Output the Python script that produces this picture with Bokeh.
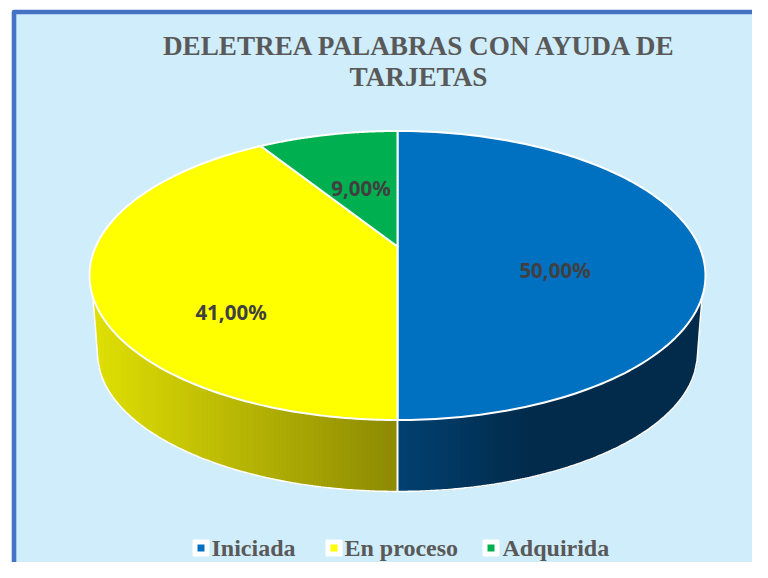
import numpy as np
from bokeh.plotting import figure
from bokeh.embed import file_html
from bokeh.resources import INLINE
from bokeh.core.properties import value

title_lines = ["DELETREA PALABRAS CON AYUDA DE", "TARJETAS"]
categories = ["Iniciada", "En proceso", "Adquirida"]
shares = [50.0, 41.0, 9.0]
labels = ["50,00%", "41,00%", "9,00%"]
colors = ["#0070C0", "#FFFF00", "#00B050"]

BG = "#D0EDFB"
CX, CY, RX, RY = 397.0, 275.0, 308.0, 144.5   # top face
APEX_Y = 246.0                                # tip of the slices (perspective)
BCY, BRX, BRY = 353.0, 300.0, 138.0           # bottom face
PERSP = 1.28                                  # foreshortening of the far side
SIDE_DY = 21.0                                # where the wall leaves the top ellipse


def project(theta_deg):
    t = np.radians(theta_deg)
    phi = np.arctan2(np.sin(t), PERSP * np.cos(t))
    return CX + RX * np.sin(phi), CY - RY * np.cos(phi)


# fits the window: 752 x 562 inside the 8px page margin
p = figure(width=752, height=562, x_range=(0, 752), y_range=(562, 0),
           output_backend="svg", toolbar_location=None, min_border=0,
           x_axis_location=None, y_axis_location=None,
           background_fill_color="white", border_fill_color="white",
           outline_line_color=None)
p.grid.visible = False

# chart frame
p.quad(left=[13.5], right=[800], top=[11.5], bottom=[640], fill_color=BG,
       line_color="#4472C4", line_width=4.6, line_join="round")

# side walls
half_side = RX * np.sqrt(1 - (SIDE_DY / RY) ** 2)


def top_edge(dx):
    return CY + RY * np.sqrt(np.clip(1 - (dx / RX) ** 2, 0, 1))


def bottom_edge(dx):
    a = np.abs(dx)
    ell = BCY + BRY * np.sqrt(np.clip(1 - (np.minimum(a, BRX) / BRX) ** 2, 0, 1))
    line = BCY + (CY + SIDE_DY - BCY) * (a - BRX) / (half_side - BRX)
    return np.where(a <= BRX, ell, line)


def wall_color(slice_idx, dx):
    a = abs(dx)
    if slice_idx == 0:
        f = min(a / 133.0, 1.0)
        c0, c1 = (0, 64, 112), (0, 42, 74)
    else:
        f = a / half_side
        c0, c1 = (140, 137, 0), (224, 224, 0)
    return "#%02x%02x%02x" % tuple(int(round(u + (v - u) * f)) for u, v in zip(c0, c1))


xs_s, ys_s, cs_s = [], [], []
cum = np.cumsum([0.0] + shares) / sum(shares) * 360.0
for i in range(len(shares)):
    lo, hi = max(cum[i], 90.0), min(cum[i + 1], 270.0)
    if hi <= lo:
        continue
    d0 = RX * np.sin(np.radians(lo))
    d1 = RX * np.sin(np.radians(hi))
    d0, d1 = sorted((np.clip(d0, -half_side, half_side), np.clip(d1, -half_side, half_side)))
    edges = np.arange(d0, d1 + 2.0, 2.0)
    edges[-1] = d1
    for a, b in zip(edges[:-1], edges[1:]):
        d = np.array([a, b])
        xs_s.append(list(CX + d) + list(CX + d[::-1]))
        ys_s.append(list(top_edge(d)) + list(bottom_edge(d[::-1])))
        cs_s.append(wall_color(i, (a + b) / 2))
p.patches(xs_s, ys_s, fill_color=cs_s, line_color=cs_s, line_width=0.8)

# wall outline
dd = np.linspace(-half_side, half_side, 241)
p.line(CX + dd, bottom_edge(dd), line_color="white", line_width=1.6)
for c in cum[:-1]:
    if 90.0 <= c <= 270.0:
        dx = RX * np.sin(np.radians(c))
        p.segment([CX + dx], [top_edge(np.array(dx))], [CX + dx], [bottom_edge(np.array(dx))],
                  line_color="white", line_width=2)

# top face
xs_t, ys_t = [], []
for i in range(len(shares)):
    th = np.linspace(cum[i], cum[i + 1], 120)
    x, y = project(th)
    xs_t.append([CX] + list(x))
    ys_t.append([APEX_Y] + list(y))
p.patches(xs_t, ys_t, fill_color=colors, line_color="white", line_width=2, line_join="round")

# data labels
p.text([554.5, 230.5, 360.5], [269, 311, 187], text=labels, text_font=value("Noto Sans"),
       text_font_style="bold", text_font_size="20.5px", text_color="#404040",
       text_align="center", text_baseline="middle")

# title
p.text([420, 418], [45, 76], text=title_lines, text_font=value("Liberation Serif"),
       text_font_style="bold", text_font_size="27.2px", text_color="#595959",
       text_align="center", text_baseline="middle")

# legend
lx = [200.5, 333.5, 490.5]
tx = [211, 344, 502]
ly = 547.5
p.scatter(lx, [ly] * 3, marker="square", size=15, fill_color="white", line_color="white",
          line_width=2, line_join="round")
p.scatter(lx, [ly] * 3, marker="square", size=7, fill_color=colors, line_color=None)
p.text(tx, [547] * 3, text=categories, text_font=value("Liberation Serif"),
       text_font_style="bold", text_font_size="24px", text_color="#595959",
       text_align="left", text_baseline="middle")

open("out.html", "w").write(file_html(p, INLINE))
